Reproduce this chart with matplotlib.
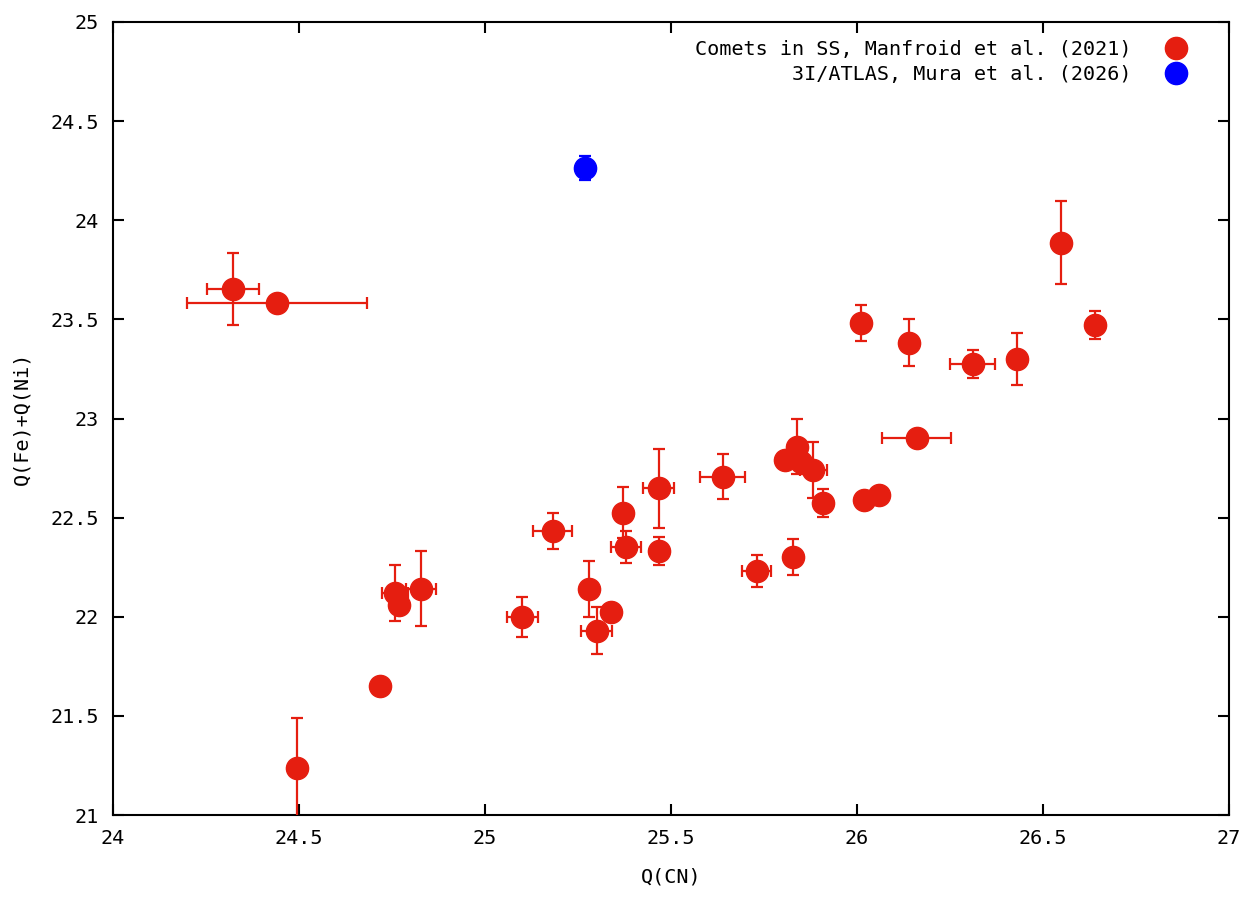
import matplotlib
matplotlib.use("Agg")
import matplotlib.pyplot as plt
from matplotlib.ticker import MultipleLocator
from matplotlib.lines import Line2D

plt.rcParams['font.family'] = ['DejaVu Sans Mono']

# Comets in the Solar System (Manfroid et al. 2021)
ss_qcn = [24.323, 24.441, 24.495, 24.719, 24.758, 24.770, 24.828, 25.100, 25.182,
          25.280, 25.338, 25.300, 25.370, 25.379, 25.467, 25.468, 25.639, 25.730,
          25.827, 25.806, 25.838, 25.850, 25.883, 25.908, 26.019, 26.060, 26.160,
          26.010, 26.141, 26.311, 26.429, 26.548, 26.640]
ss_qfeni = [23.653, 23.584, 21.237, 21.650, 22.121, 22.059, 22.141, 22.000, 22.434,
            22.141, 22.025, 21.930, 22.525, 22.353, 22.648, 22.333, 22.707, 22.232,
            22.303, 22.791, 22.858, 22.780, 22.740, 22.575, 22.589, 22.614, 22.900,
            23.483, 23.383, 23.273, 23.300, 23.887, 23.472]
ss_xerr = [0.070, 0.242, 0.005, 0.010, 0.035, 0.010, 0.040, 0.042, 0.052,
           0.010, 0.020, 0.042, 0.010, 0.041, 0.041, 0.020, 0.060, 0.040,
           0.010, 0.010, 0.010, 0.010, 0.036, 0.020, 0.010, 0.010, 0.092,
           0.010, 0.010, 0.060, 0.010, 0.010, 0.010]
ss_yerr = [0.180, 0.020, 0.250, 0.020, 0.140, 0.040, 0.190, 0.100, 0.090,
           0.140, 0.030, 0.118, 0.130, 0.080, 0.200, 0.070, 0.115, 0.080,
           0.090, 0.030, 0.140, 0.030, 0.140, 0.070, 0.020, 0.020, 0.010,
           0.090, 0.120, 0.070, 0.130, 0.210, 0.070]

# 3I/ATLAS (Mura et al. 2026)
atlas_qcn = [25.269]
atlas_qfeni = [24.264]
atlas_xerr = [0.010]
atlas_yerr = [0.060]

labels = ['Comets in SS, Manfroid et al. (2021)', '3I/ATLAS, Mura et al. (2026)']

red = '#e51e10'
blue = '#0000ff'

fig = plt.figure(figsize=(12.6, 9), dpi=100)
ax = fig.add_axes([0.0897, 0.0944, 0.8857, 0.8812])

ax.errorbar(ss_qcn, ss_qfeni, xerr=ss_xerr, yerr=ss_yerr, fmt='o', color=red,
            ecolor=red, markersize=16, elinewidth=1.6, capsize=4, capthick=1.6,
            zorder=3)
ax.errorbar(atlas_qcn, atlas_qfeni, xerr=atlas_xerr, yerr=atlas_yerr, fmt='o',
            color=blue, ecolor=blue, markersize=16, elinewidth=1.6, capsize=4,
            capthick=1.6, zorder=3)

ax.set_xlim(24, 27)
ax.set_ylim(21, 25)
ax.xaxis.set_major_locator(MultipleLocator(0.5))
ax.yaxis.set_major_locator(MultipleLocator(0.5))

def fmt(v, pos):
    return ('%g' % v)
ax.xaxis.set_major_formatter(fmt)
ax.yaxis.set_major_formatter(fmt)

ax.tick_params(direction='in', length=8, width=1.5, top=True, right=True,
               labelsize=14.5, pad=10, colors='black')
for s in ax.spines.values():
    s.set_linewidth(1.5)
    s.set_color('black')

ax.set_xlabel('Q(CN)', fontsize=14.5, labelpad=14)
ax.set_ylabel('Q(Fe)+Q(Ni)', fontsize=14.5, labelpad=14)

handles = [Line2D([], [], ls='none', marker='o', markersize=16, color=red),
           Line2D([], [], ls='none', marker='o', markersize=16, color=blue)]
leg = ax.legend(handles, labels, loc='upper right', frameon=False, markerfirst=False,
                fontsize=14.5, handletextpad=1.7, borderaxespad=0.5, labelspacing=0.3,
                handlelength=1.0, bbox_to_anchor=(1 - 25 / 1116, 1.0))
for t in leg.get_texts():
    t.set_ha('right')

fig.savefig('out.png', dpi=100)
